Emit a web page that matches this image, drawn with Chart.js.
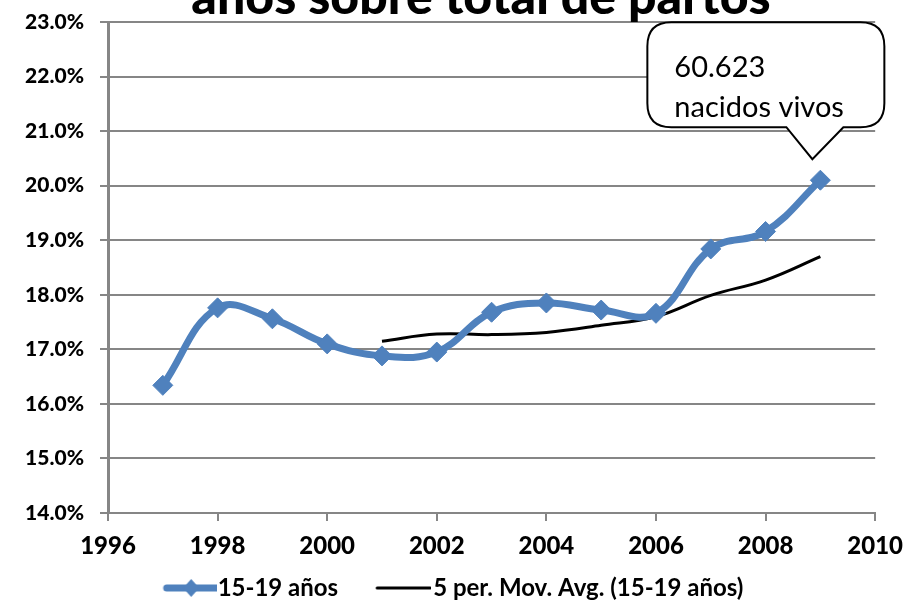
<!DOCTYPE html>
<html>
<head>
<meta charset="utf-8">
<script src="https://cdn.jsdelivr.net/npm/chart.js@4.4.0/dist/chart.umd.min.js"></script>
<style>
  html, body { margin: 0; padding: 0; background: #fff; overflow: hidden; }
  #wrap { position: relative; width: 914px; height: 604px; }
</style>
</head>
<body>
<div id="wrap"><canvas id="chart" width="914" height="604"></canvas></div>
<script>
// values (percent)
const years = [1997, 1998, 1999, 2000, 2001, 2002, 2003, 2004, 2005, 2006, 2007, 2008, 2009];
const teenShare = [16.34, 17.76, 17.56, 17.10, 16.88, 16.95, 17.68, 17.85, 17.72, 17.66, 18.84, 19.16, 20.10];
const movAvgYears = [2001, 2002, 2003, 2004, 2005, 2006, 2007, 2008, 2009];
const movAvg = [17.15, 17.28, 17.27, 17.31, 17.44, 17.60, 17.99, 18.27, 18.70];
const titleText = 'años sobre total de partos';
const calloutLines = ['60.623', 'nacidos vivos'];
const seriesLabels = ['15-19 años', '5 per. Mov. Avg. (15-19 años)'];

const BLUE = '#4F81BD';
const GRID = '#868686';

// legend symbols (line + diamond, plain line)
function legendIcon(w, from, to, color, lw, diamond) {
  const c = document.createElement('canvas');
  c.width = w; c.height = 22;
  const g = c.getContext('2d');
  g.strokeStyle = color;
  g.lineWidth = lw;
  g.lineCap = 'round';
  g.beginPath();
  g.moveTo(from, 11);
  g.lineTo(to, 11);
  g.stroke();
  if (diamond) {
    const cx = (from + to) / 2;
    g.fillStyle = color;
    g.beginPath();
    g.moveTo(cx, 2); g.lineTo(cx + 8, 11); g.lineTo(cx, 20); g.lineTo(cx - 8, 11);
    g.closePath();
    g.fill();
  }
  return c;
}
const blueIcon = legendIcon(95, 45, 94, BLUE, 7, true);
const blackIcon = legendIcon(93, 39, 92, '#000', 3, false);

const titlePlugin = {
  id: 'cutTitle',
  afterDraw(chart) {
    const ctx = chart.ctx;
    ctx.save();
    ctx.font = '900 50px Lato';
    ctx.fillStyle = '#000';
    ctx.textAlign = 'center';
    ctx.textBaseline = 'alphabetic';
    ctx.fillText(titleText, 481, 14);
    ctx.restore();
  }
};

const calloutPlugin = {
  id: 'callout',
  afterDatasetsDraw(chart) {
    const xs = chart.scales.x, ys = chart.scales.y;
    const last = teenShare.length - 1;
    const tipX = xs.getPixelForValue(years[last]) - 8;
    const tipY = ys.getPixelForValue(teenShare[last]) - 21;
    const x0 = tipX - 165, x1 = tipX + 72, y0 = tipY - 137, y1 = tipY - 32, r = 24;
    const ctx = chart.ctx;
    ctx.save();
    ctx.beginPath();
    ctx.moveTo(x0 + r, y0);
    ctx.lineTo(x1 - r, y0);
    ctx.quadraticCurveTo(x1, y0, x1, y0 + r);
    ctx.lineTo(x1, y1 - r);
    ctx.quadraticCurveTo(x1, y1, x1 - r, y1);
    ctx.lineTo(tipX + 31, y1);
    ctx.lineTo(tipX, tipY);
    ctx.lineTo(tipX - 26, y1);
    ctx.lineTo(x0 + r, y1);
    ctx.quadraticCurveTo(x0, y1, x0, y1 - r);
    ctx.lineTo(x0, y0 + r);
    ctx.quadraticCurveTo(x0, y0, x0 + r, y0);
    ctx.closePath();
    ctx.fillStyle = '#fff';
    ctx.fill();
    ctx.lineWidth = 2;
    ctx.strokeStyle = '#000';
    ctx.stroke();
    ctx.font = '29px Lato';
    ctx.fillStyle = '#000';
    ctx.textAlign = 'left';
    ctx.fillText(calloutLines[0], x0 + 27, y0 + 45);
    ctx.fillText(calloutLines[1], x0 + 27, y0 + 85);
    ctx.restore();
  }
};

new Chart(document.getElementById('chart'), {
  type: 'line',
  data: {
    datasets: [
      {
        label: seriesLabels[0],
        data: years.map((y, i) => ({ x: y, y: teenShare[i] })),
        borderColor: BLUE,
        backgroundColor: BLUE,
        borderWidth: 7,
        tension: 0.4,
        pointStyle: 'rectRot',
        pointRadius: 10,
        pointBackgroundColor: BLUE,
        pointBorderColor: BLUE,
        pointBorderWidth: 1
      },
      {
        label: seriesLabels[1],
        data: movAvgYears.map((y, i) => ({ x: y, y: movAvg[i] })),
        borderColor: '#000',
        backgroundColor: '#000',
        borderWidth: 3,
        tension: 0.4,
        pointRadius: 0
      }
    ]
  },
  options: {
    responsive: false,
    animation: false,
    layout: { padding: { left: 0, right: 38, top: 22, bottom: -6 } },
    plugins: {
      title: { display: false },
      tooltip: { enabled: false },
      legend: {
        position: 'bottom',
        labels: {
          usePointStyle: true,
          pointStyleWidth: 73,
          padding: 10,
          color: '#000',
          font: { family: 'Lato', weight: 'bold', size: 24 },
          generateLabels(chart) {
            return chart.data.datasets.map((ds, i) => ({
              text: ds.label,
              pointStyle: i === 0 ? blueIcon : blackIcon,
              fillStyle: ds.borderColor,
              strokeStyle: ds.borderColor,
              lineWidth: 0,
              hidden: false,
              datasetIndex: i
            }));
          }
        }
      }
    },
    scales: {
      x: {
        type: 'linear',
        min: 1996,
        max: 2010,
        afterFit(scale) { scale.height = 53; },
        grid: { drawOnChartArea: false, drawTicks: true, tickLength: 8, color: GRID, lineWidth: 2 },
        border: { color: GRID, width: 2 },
        ticks: {
          stepSize: 2,
          padding: 11,
          color: '#000',
          font: { family: 'Lato', weight: '900', size: 24 },
          callback: v => String(v)
        }
      },
      y: {
        min: 14,
        max: 23,
        afterFit(scale) {
          scale.width = 108;
          scale.paddingTop = 0;
          scale.paddingBottom = 0;
        },
        grid: { color: GRID, lineWidth: 2, tickLength: 8 },
        border: { color: GRID, width: 3 },
        ticks: {
          stepSize: 1,
          padding: 16,
          color: '#000',
          font: { family: 'Lato', weight: '900', size: 21 },
          callback: v => v.toFixed(1) + '%'
        }
      }
    }
  },
  plugins: [titlePlugin, calloutPlugin]
});
</script>
</body>
</html>
